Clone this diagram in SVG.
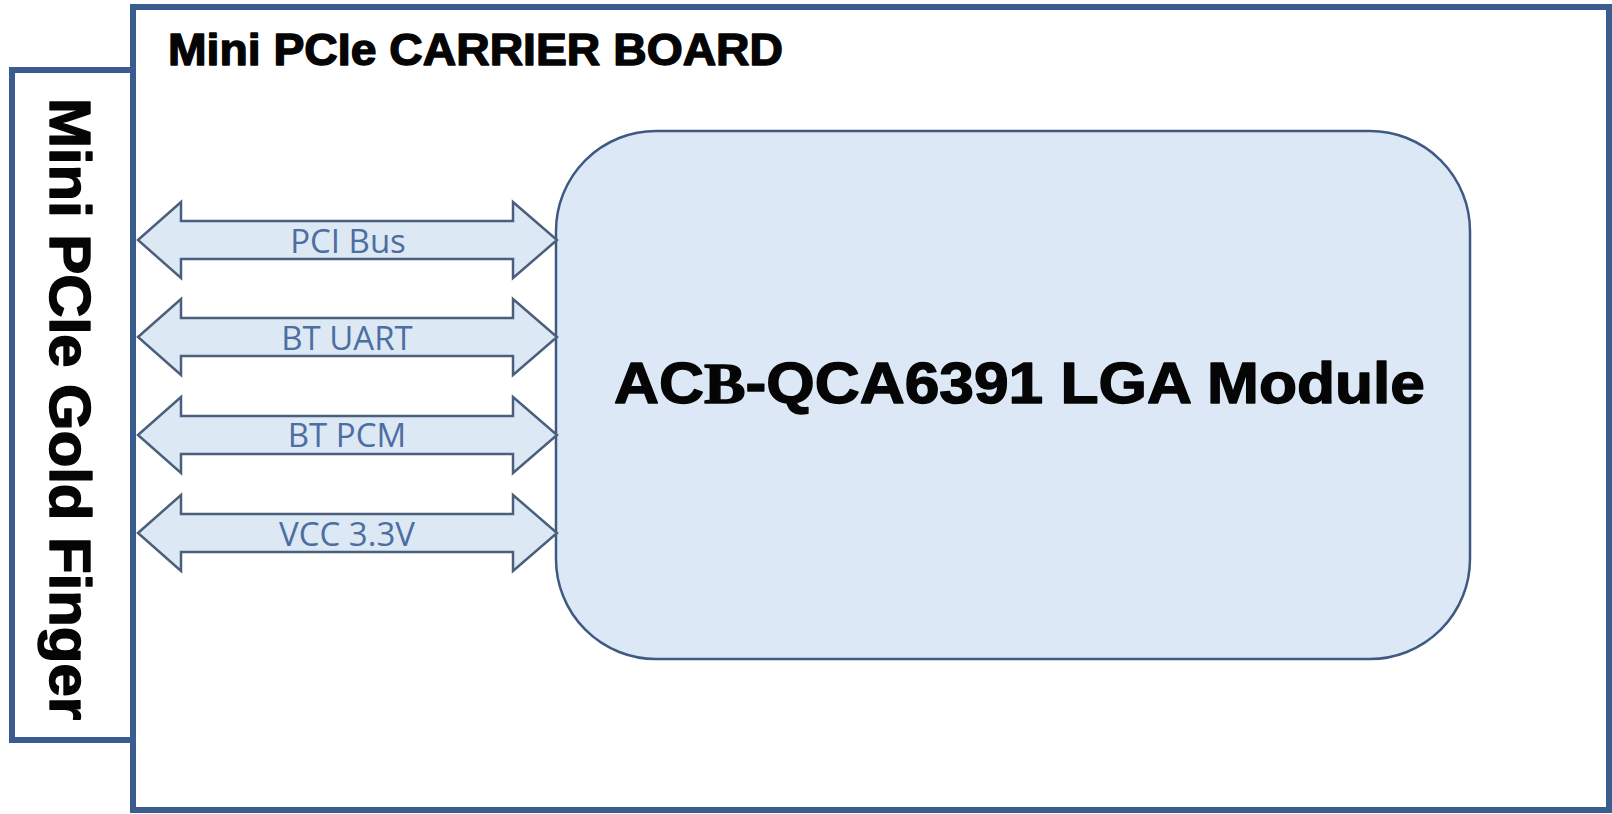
<svg xmlns="http://www.w3.org/2000/svg" width="1612" height="814" viewBox="0 0 1612 814">
<style>
.frame{fill:#ffffff;stroke:#3b5c8e;stroke-width:6}
.title{font-family:"Liberation Sans",Arial,sans-serif;font-weight:bold;fill:#050505;stroke:#050505;stroke-width:1.4;stroke-linejoin:round}
.arrow{fill:#dde8f5;stroke:#4a5f7c;stroke-width:2.5;stroke-linejoin:miter}
.lbl{font-family:"Open Sans","Liberation Sans",sans-serif;font-size:33px;fill:#4c6ea0;text-anchor:middle}
</style>
<rect width="1612" height="814" fill="#ffffff"/>
<g id="carrier-board">
<rect class="frame" x="133" y="7" width="1476" height="803"/>
<text class="title" x="168" y="65" font-size="44" textLength="615" lengthAdjust="spacingAndGlyphs">Mini PCIe CARRIER BOARD</text>
</g>
<g id="gold-finger">
<rect class="frame" x="12" y="70" width="121" height="670"/>
<text class="title" transform="translate(50,409) rotate(90)" x="0" y="0" font-size="57" text-anchor="middle" textLength="622" lengthAdjust="spacingAndGlyphs">Mini PCIe Gold Finger</text>
</g>
<g id="module">
<rect x="556" y="131" width="914" height="528" rx="100" ry="100" fill="#dde8f6" stroke="#3f5a82" stroke-width="2.5"/>
<text class="title" x="614" y="403" font-size="57" textLength="811" lengthAdjust="spacingAndGlyphs">AC<tspan font-family="'Liberation Serif',serif">B</tspan>-QCA6391 LGA Module</text>
</g>
<g id="connectors">
<g id="pci-bus">
<path class="arrow" d="M138,240 L181,202 L181,221 L513,221 L513,202 L557,240 L513,278 L513,259 L181,259 L181,278 Z"/>
<text class="lbl" x="348" y="253">PCI Bus</text>
</g>
<g id="bt-uart">
<path class="arrow" d="M138,337 L181,299 L181,318 L513,318 L513,299 L557,337 L513,375 L513,356 L181,356 L181,375 Z"/>
<text class="lbl" x="347" y="350">BT UART</text>
</g>
<g id="bt-pcm">
<path class="arrow" d="M138,435 L181,397 L181,416 L513,416 L513,397 L557,435 L513,473 L513,454 L181,454 L181,473 Z"/>
<text class="lbl" x="347" y="447">BT PCM</text>
</g>
<g id="vcc">
<path class="arrow" d="M138,533 L181,495 L181,514 L513,514 L513,495 L557,533 L513,571 L513,552 L181,552 L181,571 Z"/>
<text class="lbl" x="347" y="546">VCC 3.3V</text>
</g>
</g>
</svg>
